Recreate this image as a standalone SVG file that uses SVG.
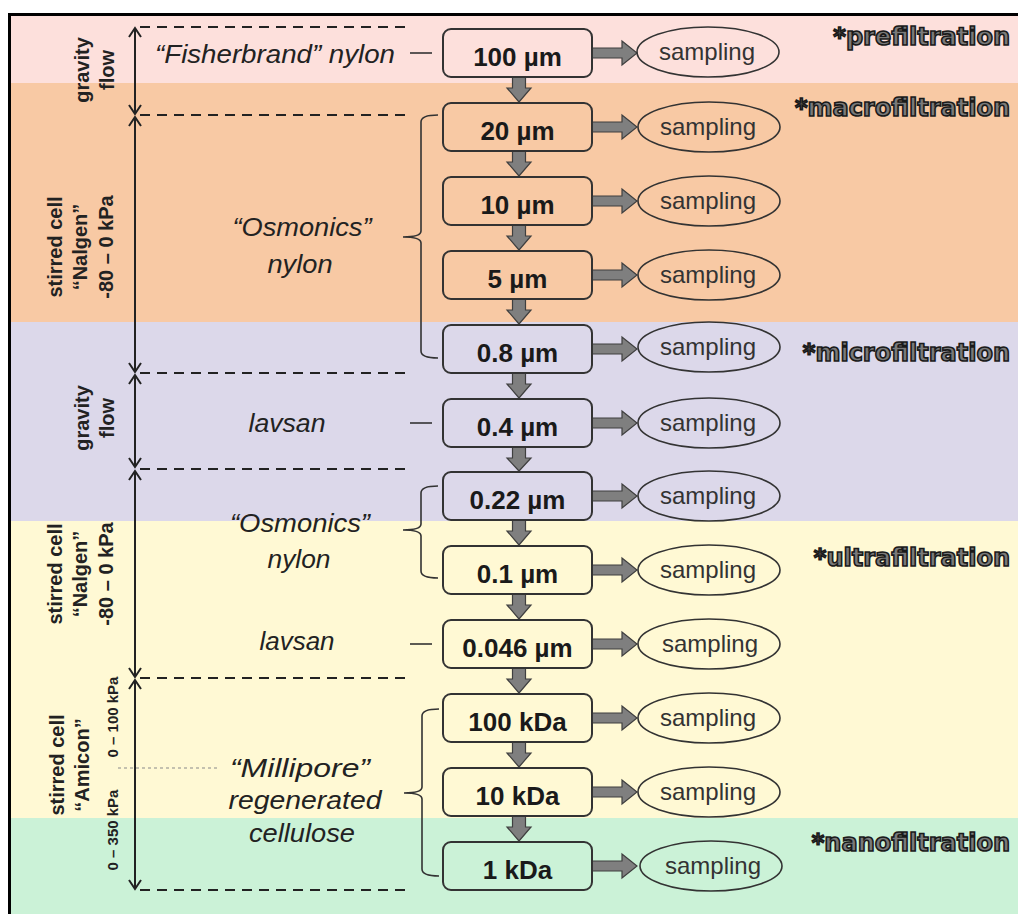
<svg xmlns="http://www.w3.org/2000/svg" width="1018" height="914" viewBox="0 0 1018 914">
<style>
.box{fill:none;stroke:#333;stroke-width:2}
.btxt{font-family:"Liberation Sans",Arial,sans-serif;font-weight:bold;font-size:26px;fill:#1a1a1a;text-anchor:middle}
.samp{fill:none;stroke:#333;stroke-width:1.6}
.stxt{font-family:"Liberation Sans",Arial,sans-serif;font-size:24px;fill:#333;text-anchor:middle}
.arr{fill:#7f7f7f;stroke:#3f3f3f;stroke-width:1.2;stroke-linejoin:miter}
.dash{stroke:#222;stroke-width:2;stroke-dasharray:10 7;fill:none}
.line{stroke:#222;stroke-width:2;fill:none}
.brace{stroke:#333;stroke-width:1.6;fill:none}
.it{font-family:"Liberation Sans",Arial,sans-serif;font-style:italic;font-size:25px;fill:#222;text-anchor:middle}
.rot{font-family:"Liberation Sans",Arial,sans-serif;font-weight:bold;font-size:20px;fill:#222;text-anchor:middle}
.rots{font-family:"Liberation Sans",Arial,sans-serif;font-weight:bold;font-size:15px;fill:#222;text-anchor:middle}
.stage{font-family:"DejaVu Sans",Verdana,sans-serif;font-weight:bold;font-size:24px;fill:#7a7a7a;stroke:#1a1a1a;stroke-width:1.6;text-anchor:end}
</style>
<rect x="0" y="0" width="1018" height="914" fill="#fff"/>
<g id="bands">
<rect x="10" y="15" width="1008" height="68" fill="#fde0dc"/>
<rect x="10" y="83" width="1008" height="239" fill="#f8c9a4"/>
<rect x="10" y="322" width="1008" height="199" fill="#dcd8ea"/>
<rect x="10" y="521" width="1008" height="297" fill="#fff9d4"/>
<rect x="10" y="818" width="1008" height="96" fill="#cbf2d7"/>
</g>
<g id="frame">
<line x1="8" y1="14.5" x2="1018" y2="14.5" stroke="#000" stroke-width="3"/>
<line x1="9.5" y1="13" x2="9.5" y2="914" stroke="#000" stroke-width="3"/>
</g>
<g id="stages">
<text class="stage" x="1010" y="45">*prefiltration</text>
<text class="stage" x="1010" y="116">*macrofiltration</text>
<text class="stage" x="1010" y="361">*microfiltration</text>
<text class="stage" x="1010" y="566">*ultrafiltration</text>
<text class="stage" x="1010" y="851">*nanofiltration</text>
</g>
<g id="guides">
<line class="dash" x1="140" y1="27" x2="405" y2="27"/>
<line class="dash" x1="140" y1="115" x2="405" y2="115"/>
<line class="dash" x1="140" y1="373" x2="405" y2="373"/>
<line class="dash" x1="140" y1="469" x2="405" y2="469"/>
<line class="dash" x1="140" y1="678" x2="405" y2="678"/>
<line class="dash" x1="140" y1="890" x2="405" y2="890"/>
<line x1="118" y1="768" x2="220" y2="768" stroke="#8a8a8a" stroke-width="1.2" stroke-dasharray="3 3"/>
</g>
<g id="pressure-arrows">
<path class="line" d="M135,28 V114 M129,37 L135,28 L141,37 M129,105 L135,114 L141,105"/>
<path class="line" d="M135,117 V372 M129,126 L135,117 L141,126 M129,363 L135,372 L141,363"/>
<path class="line" d="M135,375 V467 M129,384 L135,375 L141,384 M129,458 L135,467 L141,458"/>
<path class="line" d="M135,471 V677 M129,480 L135,471 L141,480 M129,668 L135,677 L141,668"/>
<path class="line" d="M135,680 V889 M129,689 L135,680 L141,689 M129,880 L135,889 L141,880"/>
</g>
<g id="modes">
<text class="rot" transform="translate(89,70) rotate(-90)">gravity</text>
<text class="rot" transform="translate(114,70) rotate(-90)">flow</text>
<text class="rot" transform="translate(62,247) rotate(-90)">stirred cell</text>
<text class="rot" transform="translate(87,247) rotate(-90)">“Nalgen”</text>
<text class="rot" transform="translate(113,247) rotate(-90)">-80 – 0 kPa</text>
<text class="rot" transform="translate(89,418) rotate(-90)">gravity</text>
<text class="rot" transform="translate(114,418) rotate(-90)">flow</text>
<text class="rot" transform="translate(62,574) rotate(-90)">stirred cell</text>
<text class="rot" transform="translate(87,574) rotate(-90)">“Nalgen”</text>
<text class="rot" transform="translate(113,574) rotate(-90)">-80 – 0 kPa</text>
<text class="rot" transform="translate(64,765) rotate(-90)">stirred cell</text>
<text class="rot" transform="translate(89,765) rotate(-90)">“Amicon”</text>
<text class="rots" transform="translate(118,717) rotate(-90)">0 – 100 kPa</text>
<text class="rots" transform="translate(118,830) rotate(-90)">0 – 350 kPa</text>
</g>
<g id="materials">
<text class="it" x="275" y="63" textLength="240" lengthAdjust="spacingAndGlyphs">“Fisherbrand” nylon</text>
<line x1="410" y1="53" x2="432" y2="53" stroke="#333" stroke-width="1.6"/>
<text class="it" x="302" y="236" textLength="139" lengthAdjust="spacingAndGlyphs">“Osmonics”</text>
<text class="it" x="300" y="273" textLength="65" lengthAdjust="spacingAndGlyphs">nylon</text>
<path class="brace" d="M438,115 Q421,115 421,122 V231 Q421,237 403,237 Q421,237 421,243 V351 Q421,358 438,358"/>
<text class="it" x="287" y="432" textLength="77" lengthAdjust="spacingAndGlyphs">lavsan</text>
<line x1="410" y1="423" x2="432" y2="423" stroke="#333" stroke-width="1.6"/>
<text class="it" x="300" y="532" textLength="140" lengthAdjust="spacingAndGlyphs">“Osmonics”</text>
<text class="it" x="299" y="568" textLength="63" lengthAdjust="spacingAndGlyphs">nylon</text>
<path class="brace" d="M438,486 Q421,486 421,493 V524 Q421,530 403,530 Q421,530 421,536 V571 Q421,578 438,578"/>
<text class="it" x="297" y="650" textLength="75" lengthAdjust="spacingAndGlyphs">lavsan</text>
<line x1="410" y1="644" x2="432" y2="644" stroke="#333" stroke-width="1.6"/>
<text class="it" x="300" y="777" textLength="140" lengthAdjust="spacingAndGlyphs">“Millipore”</text>
<text class="it" x="305" y="809" textLength="153" lengthAdjust="spacingAndGlyphs">regenerated</text>
<text class="it" x="302" y="842" textLength="106" lengthAdjust="spacingAndGlyphs">cellulose</text>
<path class="brace" d="M439,709 Q422,709 422,716 V787 Q422,793 404,793 Q422,793 422,799 V869 Q422,876 439,876"/>
</g>
<g id="connectors">
<polygon class="arr" points="512.5,77 525.5,77 525.5,88 531,88 519,102 507,88 512.5,88"/>
<polygon class="arr" points="512.5,151 525.5,151 525.5,162 531,162 519,176 507,162 512.5,162"/>
<polygon class="arr" points="512.5,225 525.5,225 525.5,236 531,236 519,250 507,236 512.5,236"/>
<polygon class="arr" points="512.5,299 525.5,299 525.5,310 531,310 519,324 507,310 512.5,310"/>
<polygon class="arr" points="512.5,373 525.5,373 525.5,384 531,384 519,398 507,384 512.5,384"/>
<polygon class="arr" points="512.5,447 525.5,447 525.5,458 531,458 519,471 507,458 512.5,458"/>
<polygon class="arr" points="512.5,520 525.5,520 525.5,531 531,531 519,545 507,531 512.5,531"/>
<polygon class="arr" points="512.5,594 525.5,594 525.5,605 531,605 519,619 507,605 512.5,605"/>
<polygon class="arr" points="512.5,668 525.5,668 525.5,679 531,679 519,693 507,679 512.5,679"/>
<polygon class="arr" points="512.5,742 525.5,742 525.5,753 531,753 519,767 507,753 512.5,753"/>
<polygon class="arr" points="512.5,816 525.5,816 525.5,827 531,827 519,841 507,827 512.5,827"/>
<polygon class="arr" points="592,48 622,48 622,41 637,53 622,65 622,58 592,58"/>
<polygon class="arr" points="592,122 622,122 622,115 637,127 622,139 622,132 592,132"/>
<polygon class="arr" points="592,196 622,196 622,189 637,201 622,213 622,206 592,206"/>
<polygon class="arr" points="592,270 622,270 622,263 637,275 622,287 622,280 592,280"/>
<polygon class="arr" points="592,344 622,344 622,337 637,349 622,361 622,354 592,354"/>
<polygon class="arr" points="592,418 622,418 622,411 637,423 622,435 622,428 592,428"/>
<polygon class="arr" points="592,491 622,491 622,484 637,496 622,508 622,501 592,501"/>
<polygon class="arr" points="592,565 622,565 622,558 637,570 622,582 622,575 592,575"/>
<polygon class="arr" points="592,639 622,639 622,632 637,644 622,656 622,649 592,649"/>
<polygon class="arr" points="592,713 622,713 622,706 637,718 622,730 622,723 592,723"/>
<polygon class="arr" points="592,787 622,787 622,780 637,792 622,804 622,797 592,797"/>
<polygon class="arr" points="592,861 622,861 622,854 637,866 622,878 622,871 592,871"/>
</g>
<g id="f100um"><rect class="box" x="443" y="29" width="149" height="48" rx="8"/><text class="btxt" x="517.5" y="66">100 µm</text></g>
<g id="f20um"><rect class="box" x="443" y="103" width="149" height="48" rx="8"/><text class="btxt" x="517.5" y="140">20 µm</text></g>
<g id="f10um"><rect class="box" x="443" y="177" width="149" height="48" rx="8"/><text class="btxt" x="517.5" y="214">10 µm</text></g>
<g id="f5um"><rect class="box" x="443" y="251" width="149" height="48" rx="8"/><text class="btxt" x="517.5" y="288">5 µm</text></g>
<g id="f08um"><rect class="box" x="443" y="325" width="149" height="48" rx="8"/><text class="btxt" x="517.5" y="362">0.8 µm</text></g>
<g id="f04um"><rect class="box" x="443" y="399" width="149" height="48" rx="8"/><text class="btxt" x="517.5" y="436">0.4 µm</text></g>
<g id="f022um"><rect class="box" x="443" y="472" width="149" height="48" rx="8"/><text class="btxt" x="517.5" y="509">0.22 µm</text></g>
<g id="f01um"><rect class="box" x="443" y="546" width="149" height="48" rx="8"/><text class="btxt" x="517.5" y="583">0.1 µm</text></g>
<g id="f0046um"><rect class="box" x="443" y="620" width="149" height="48" rx="8"/><text class="btxt" x="517.5" y="657">0.046 µm</text></g>
<g id="f100kDa"><rect class="box" x="443" y="694" width="149" height="48" rx="8"/><text class="btxt" x="517.5" y="731">100 kDa</text></g>
<g id="f10kDa"><rect class="box" x="443" y="768" width="149" height="48" rx="8"/><text class="btxt" x="517.5" y="805">10 kDa</text></g>
<g id="f1kDa"><rect class="box" x="443" y="842" width="149" height="48" rx="8"/><text class="btxt" x="517.5" y="879">1 kDa</text></g>
<g id="s1"><ellipse class="samp" cx="708" cy="52" rx="71" ry="25"/><text class="stxt" x="707" y="60">sampling</text></g>
<g id="s2"><ellipse class="samp" cx="709" cy="127" rx="71" ry="25"/><text class="stxt" x="708" y="135">sampling</text></g>
<g id="s3"><ellipse class="samp" cx="709" cy="201" rx="71" ry="25"/><text class="stxt" x="708" y="209">sampling</text></g>
<g id="s4"><ellipse class="samp" cx="709" cy="275" rx="71" ry="25"/><text class="stxt" x="708" y="283">sampling</text></g>
<g id="s5"><ellipse class="samp" cx="709" cy="347" rx="71" ry="25"/><text class="stxt" x="708" y="355">sampling</text></g>
<g id="s6"><ellipse class="samp" cx="709" cy="423" rx="71" ry="25"/><text class="stxt" x="708" y="431">sampling</text></g>
<g id="s7"><ellipse class="samp" cx="709" cy="496" rx="71" ry="25"/><text class="stxt" x="708" y="504">sampling</text></g>
<g id="s8"><ellipse class="samp" cx="709" cy="570" rx="71" ry="25"/><text class="stxt" x="708" y="578">sampling</text></g>
<g id="s9"><ellipse class="samp" cx="709" cy="644" rx="71" ry="25"/><text class="stxt" x="710" y="652">sampling</text></g>
<g id="s10"><ellipse class="samp" cx="709" cy="718" rx="71" ry="25"/><text class="stxt" x="708" y="726">sampling</text></g>
<g id="s11"><ellipse class="samp" cx="709" cy="792" rx="71" ry="25"/><text class="stxt" x="708" y="800">sampling</text></g>
<g id="s12"><ellipse class="samp" cx="711" cy="866" rx="71" ry="25"/><text class="stxt" x="713" y="874">sampling</text></g>
</svg>
